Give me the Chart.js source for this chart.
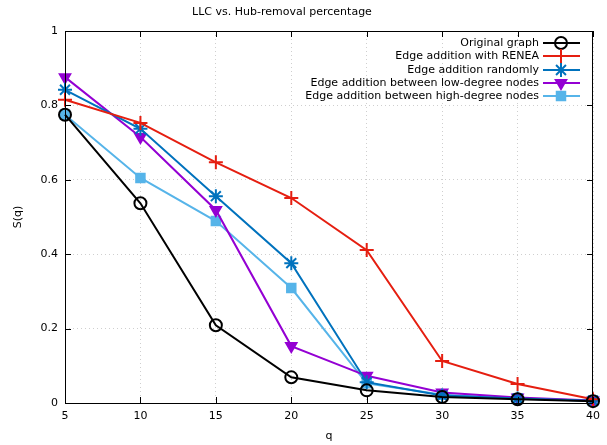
<!DOCTYPE html>
<html>
<head>
<meta charset="utf-8">
<script src="https://cdn.jsdelivr.net/npm/chart.js@4/dist/chart.umd.min.js"></script>
<style>
  html, body { margin: 0; padding: 0; background: #fff; }
  #wrap { width: 607px; height: 445px; }
</style>
</head>
<body>
<div id="wrap"><canvas id="mycanvas" width="607" height="445"></canvas></div>
<script>
// values
var qValues = [5, 10, 15, 20, 25, 30, 35, 40];
var original = [0.775, 0.537, 0.209, 0.069, 0.034, 0.016, 0.010, 0.005];
var renea = [0.815, 0.753, 0.647, 0.551, 0.411, 0.113, 0.051, 0.010];
var randomly = [0.842, 0.737, 0.556, 0.376, 0.056, 0.020, 0.012, 0.006];
var lowDegree = [0.876, 0.715, 0.519, 0.153, 0.073, 0.028, 0.015, 0.007];
var highDegree = [0.775, 0.605, 0.489, 0.309, 0.053, 0.022, 0.012, 0.006];
var xTicks = [5, 10, 15, 20, 25, 30, 35, 40];
var yTicks = [0, 0.2, 0.4, 0.6, 0.8, 1];
var yTickLabels = ["0", "0.2", "0.4", "0.6", "0.8", "1"];

var seriesNames = ["Original graph", "Edge addition with RENEA", "Edge addition randomly",
  "Edge addition between low-degree nodes", "Edge addition between high-degree nodes"];
var seriesValues = [original, renea, randomly, lowDegree, highDegree];
var colors = ['#000000', '#e51e10', '#0072bd', '#9400d3', '#56b4e9'];
var styles = [
  {pointStyle: 'circle', radius: 6, fill: false, rot: 0},
  {pointStyle: 'cross', radius: 7, fill: false, rot: 0},
  {pointStyle: 'star', radius: 7, fill: false, rot: 0},
  {pointStyle: 'triangle', radius: 6, fill: true, rot: 180},
  {pointStyle: 'rect', radius: 6, fill: true, rot: 0}
];

function pts(vals) {
  var out = [];
  for (var i = 0; i < qValues.length; i++) out.push({x: qValues[i], y: vals[i]});
  return out;
}

var datasets = [];
for (var i = 0; i < seriesNames.length; i++) {
  datasets.push({
    label: seriesNames[i],
    data: pts(seriesValues[i]),
    borderColor: colors[i],
    backgroundColor: colors[i],
    borderWidth: 2,
    pointStyle: styles[i].pointStyle,
    pointRadius: styles[i].radius,
    pointHoverRadius: styles[i].radius,
    pointRotation: styles[i].rot,
    pointBorderWidth: 2,
    pointBackgroundColor: styles[i].fill ? colors[i] : 'rgba(0,0,0,0)',
    pointBorderColor: colors[i],
    tension: 0,
    clip: false
  });
}

var FONT = '11px "DejaVu Sans", sans-serif';

// title, axis names, inward ticks and the gnuplot-like legend
var extras = {
  id: 'extras',
  afterDraw: function(chart) {
    var ctx = chart.ctx, a = chart.chartArea;
    var xs = chart.scales.x, ys = chart.scales.y;
    ctx.save();
    // inward tick marks
    ctx.strokeStyle = '#000';
    ctx.lineWidth = 1;
    ctx.beginPath();
    xTicks.forEach(function(t) {
      var px = Math.round(xs.getPixelForValue(t)) + 0.5;
      ctx.moveTo(px, a.bottom); ctx.lineTo(px, a.bottom - 6);
      ctx.moveTo(px, a.top); ctx.lineTo(px, a.top + 6);
    });
    yTicks.forEach(function(t) {
      var py = Math.round(ys.getPixelForValue(t)) + 0.5;
      ctx.moveTo(a.left, py); ctx.lineTo(a.left + 6, py);
      ctx.moveTo(a.right, py); ctx.lineTo(a.right - 6, py);
    });
    ctx.stroke();
    ctx.strokeRect(a.left + 0.5, a.top + 0.5, a.right - a.left - 1, a.bottom - a.top);

    ctx.fillStyle = '#000';
    ctx.font = FONT;
    ctx.textAlign = 'center';
    ctx.textBaseline = 'middle';
    ctx.fillText('LLC vs. Hub-removal percentage', 282, 12);
    ctx.fillText('q', 329, 436);
    ctx.save();
    ctx.translate(18, 217);
    ctx.rotate(-Math.PI / 2);
    ctx.fillText('S(q)', 0, 0);
    ctx.restore();

    // legend
    var rowY = [43, 56, 70, 83, 96];
    for (var i = 0; i < seriesNames.length; i++) {
      var y = rowY[i];
      ctx.textAlign = 'right';
      ctx.fillStyle = '#000';
      ctx.fillText(seriesNames[i], 539, y);
      ctx.strokeStyle = colors[i];
      ctx.lineWidth = 2;
      ctx.beginPath();
      ctx.moveTo(543, y); ctx.lineTo(580, y);
      ctx.stroke();
      ctx.fillStyle = styles[i].fill ? colors[i] : 'rgba(0,0,0,0)';
      Chart.helpers.drawPoint(ctx, {
        pointStyle: styles[i].pointStyle,
        radius: styles[i].radius,
        rotation: styles[i].rot,
        borderWidth: 2
      }, 561, y);
    }
    ctx.restore();
  }
};

var ctx = document.getElementById("mycanvas");
var lineGraph = new Chart(ctx, {
  type: 'line',
  data: {datasets: datasets},
  options: {
    responsive: false,
    animation: false,
    devicePixelRatio: 1,
    layout: {padding: {top: 31, right: 11, left: 0, bottom: 0}},
    plugins: {
      legend: {display: false},
      title: {display: false},
      tooltip: {enabled: false}
    },
    scales: {
      x: {
        type: 'linear',
        min: 5, max: 40,
        afterFit: function(s) { s.height = 42; },
        afterBuildTicks: function(s) { s.ticks = xTicks.map(function(v) { return {value: v}; }); },
        ticks: {color: '#000', font: {family: 'DejaVu Sans', size: 11}, padding: 7, maxRotation: 0},
        grid: {color: '#cfcfcf', tickLength: 0, drawTicks: false},
        border: {display: false, dash: [1, 3]}
      },
      y: {
        min: 0, max: 1,
        afterFit: function(s) { s.width = 65; },
        afterBuildTicks: function(s) { s.ticks = yTicks.map(function(v) { return {value: v}; }); },
        ticks: {
          color: '#000', font: {family: 'DejaVu Sans', size: 11}, padding: 7,
          callback: function(v, idx) { return yTickLabels[idx]; }
        },
        grid: {color: '#cfcfcf', tickLength: 0, drawTicks: false},
        border: {display: false, dash: [1, 3]}
      }
    }
  },
  plugins: [extras]
});
</script>
</body>
</html>
